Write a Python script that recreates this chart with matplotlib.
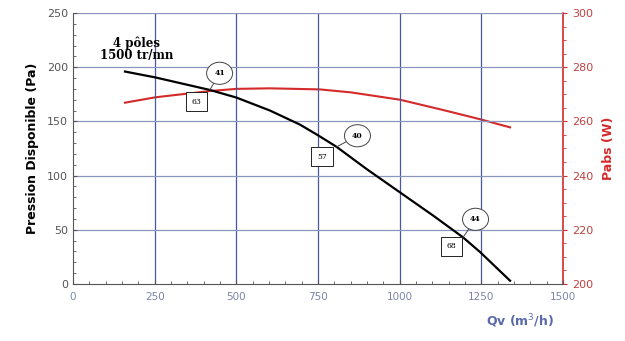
import numpy as np
import matplotlib
matplotlib.use("Agg")
import matplotlib.pyplot as plt
from matplotlib.ticker import MultipleLocator, AutoMinorLocator

# courbe pression disponible (Pa) vs débit (m3/h)
qv_p = [159, 253, 419, 500, 603, 695, 751, 807, 899, 1001, 1103, 1194, 1246, 1338]
pres = [196, 190.5, 179, 172, 160, 147, 137, 126.5, 106, 84.5, 63, 43, 29.5, 3]
# courbe puissance absorbée (W)
qv_w = [159, 253, 419, 500, 603, 756, 851, 1001, 1133, 1246, 1338]
pabs = [266.9, 268.9, 271.2, 272.0, 272.2, 271.8, 270.7, 268.0, 264.2, 260.8, 257.8]
# points annotés
ann_q = [419, 807, 1194]
ann_p = [179, 126.5, 43]
bulle = ["41", "40", "44"]
boite = ["63", "57", "68"]

RED = "#d42a2a"
fig = plt.figure(figsize=(6.25, 3.41), dpi=100)
fig.patch.set_facecolor("white")
ax = fig.add_axes([0.1168, 0.1672, 0.784, 0.7947])
ax.set_xlim(0, 1500); ax.set_ylim(0, 250)
ax.xaxis.set_major_locator(MultipleLocator(250)); ax.xaxis.set_minor_locator(AutoMinorLocator(5))
ax.yaxis.set_major_locator(MultipleLocator(50)); ax.yaxis.set_minor_locator(AutoMinorLocator(5))
for v in range(250, 1500, 250):
    ax.axvline(v, color="#4a58a0", lw=0.9, zorder=1)
for v in range(50, 251, 50):
    ax.axhline(v, color="#8a96bc", lw=0.9, zorder=1)
ax.spines["top"].set_visible(False); ax.spines["right"].set_visible(False)
ax.spines["left"].set_color("#555555"); ax.spines["bottom"].set_color("#555555")
ax.tick_params(axis="x", which="both", direction="in", colors="#555555", labelcolor="#7a84a8", labelsize=7.5, pad=6)
ax.tick_params(axis="y", which="both", direction="in", colors="#555555", labelcolor="#555555", labelsize=8)
ax.tick_params(which="major", length=3); ax.tick_params(which="minor", length=2)
ax.plot(qv_p, pres, color="black", lw=1.6, zorder=4, solid_joinstyle="round")

ax2 = ax.twinx()
ax2.set_ylim(200, 300)
ax2.yaxis.set_major_locator(MultipleLocator(20)); ax2.yaxis.set_minor_locator(AutoMinorLocator(4))
for s in ("top", "left", "bottom"):
    ax2.spines[s].set_visible(False)
ax2.spines["right"].set_color(RED); ax2.spines["right"].set_linewidth(1.2)
ax2.tick_params(axis="y", which="both", direction="out", colors=RED, labelcolor="#c04040", labelsize=8)
ax2.tick_params(which="major", length=3); ax2.tick_params(which="minor", length=2)
ax2.plot(qv_w, pabs, color=RED, lw=1.5, zorder=3, solid_joinstyle="round")

ax.set_ylabel("Pression Disponible (Pa)", fontsize=9, fontweight="bold", labelpad=6)
ax2.set_ylabel("Pabs (W)", fontsize=9, fontweight="bold", color=RED, labelpad=6)
fig.text(0.832, 0.045, "Qv (m$^3$/h)", fontsize=9, fontweight="bold", color="#5a6aa8", ha="center")

ax.text(195, 217, "4 pôles\n1500 tr/mn", fontsize=8.5, fontweight="bold", family="DejaVu Serif",
        ha="center", va="center", linespacing=0.9, zorder=6)

# décalages (points) bulle / boîte pour chaque annotation
off_b = [(7, 12), (15, 8), (9, 13)]
off_c = [(-9.5, -8.5), (-10.5, -7), (-8.5, -6.5)]
for q, p, b, c, ob, oc in zip(ann_q, ann_p, bulle, boite, off_b, off_c):
    ax.annotate(b, (q, p), xytext=ob, textcoords="offset points", fontsize=5.5,
                family="DejaVu Serif", fontweight="bold", ha="center", va="center", zorder=7,
                bbox=dict(boxstyle="ellipse,pad=0.5", fc="white", ec="#444444", lw=0.7),
                arrowprops=dict(arrowstyle="-", color="#444444", lw=0.7, shrinkA=0, shrinkB=0))
    ax.annotate(c, (q, p), xytext=oc, textcoords="offset points", fontsize=5.5,
                family="DejaVu Serif", ha="center", va="center", zorder=7,
                bbox=dict(boxstyle="square,pad=0.75", fc="white", ec="#222222", lw=0.7))

ax.set_zorder(ax2.get_zorder() + 1); ax.patch.set_visible(False)
fig.savefig("out.png", dpi=100, facecolor="white")
